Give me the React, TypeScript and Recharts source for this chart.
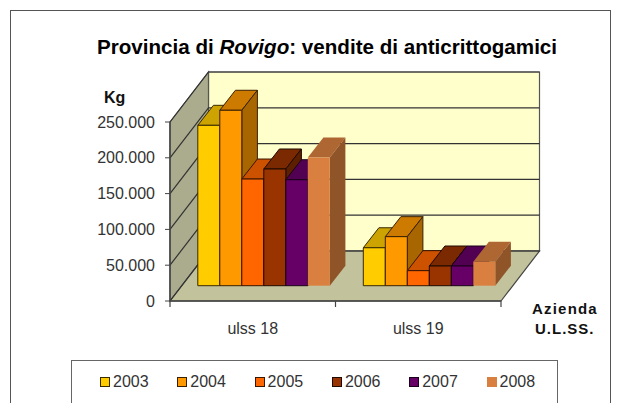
import React from "react";
import { BarChart, Bar, XAxis, YAxis, Legend, ReferenceArea } from "recharts";

const categories = ["ulss 18", "ulss 19"];
const years = ["2003", "2004", "2005", "2006", "2007", "2008"];
const sales2003 = [224000, 53000];
const sales2004 = [245000, 68500];
const sales2005 = [149000, 21000];
const sales2006 = [163000, 27500];
const sales2007 = [148000, 27500];
const sales2008 = [179000, 33500];
const yTicks = [0, 50000, 100000, 150000, 200000, 250000];

const series = [sales2003, sales2004, sales2005, sales2006, sales2007, sales2008];
const data = categories.map((name, i) => {
  const row: Record<string, string | number> = { name };
  years.forEach((y, s) => {
    row[y] = series[s][i];
  });
  return row;
});

const colors: Record<string, { front: string; top: string; side: string; edge: string }> = {
  "2003": { front: "#FFCC00", top: "#CCA300", side: "#997A00", edge: "#3a2a00" },
  "2004": { front: "#FF9900", top: "#CC7A00", side: "#A86600", edge: "#3a2000" },
  "2005": { front: "#FF6600", top: "#CC5200", side: "#A34100", edge: "#3a1500" },
  "2006": { front: "#993300", top: "#7A2900", side: "#5C1F00", edge: "#200a00" },
  "2007": { front: "#660066", top: "#520052", side: "#3D003D", edge: "#1a001a" },
  "2008": { front: "#D98040", top: "#AE6633", side: "#8F5428", edge: "none" },
};

// oblique projection: back wall offset, bar front offset, bar depth
const WALL_DX = 38.5;
const WALL_DY = -50;
const FRONT_DX = 11.8;
const FRONT_DY = -15.3;
const BAR_DX = 15.6;
const BAR_DY = -20;

const formatKg = (v: number) => String(v).replace(/\B(?=(\d{3})+$)/g, ".");

function Box3D(props: any) {
  const { x, y, width, height, dataKey } = props;
  const c = colors[dataKey];
  const l = x + FRONT_DX;
  const r = l + width;
  const t = y + FRONT_DY;
  const b = t + height;
  const sw = c.edge === "none" ? 0 : 1;
  return (
    <g stroke={c.edge} strokeWidth={sw} strokeLinejoin="round">
      <polygon fill={c.top} points={`${l},${t} ${r},${t} ${r + BAR_DX},${t + BAR_DY} ${l + BAR_DX},${t + BAR_DY}`} />
      <polygon fill={c.side} points={`${r},${t} ${r + BAR_DX},${t + BAR_DY} ${r + BAR_DX},${b + BAR_DY} ${r},${b}`} />
      <rect x={l} y={t} width={width} height={height} fill={c.front} />
    </g>
  );
}

function Walls(props: any) {
  const { x, y, width, height } = props;
  const r = x + width;
  const b = y + height;
  const bx = WALL_DX;
  const by = WALL_DY;
  return (
    <g>
      <polygon fill="#FFFFCC" stroke="#555" strokeWidth={1.2} points={`${x + bx},${y + by} ${r + bx},${y + by} ${r + bx},${b + by} ${x + bx},${b + by}`} />
      <polygon fill="#ABAB8E" stroke="#555" strokeWidth={1.2} points={`${x},${y} ${x + bx},${y + by} ${x + bx},${b + by} ${x},${b}`} />
      <polygon fill="#C2C29C" stroke="#444" strokeWidth={1.2} points={`${x},${b} ${x + bx},${b + by} ${r + bx},${b + by} ${r},${b}`} />
      {[x, x + width / 2, r].map((tx) => (
        <line key={tx} x1={tx} x2={tx} y1={b} y2={b + 6} stroke="#444" strokeWidth={1.2} />
      ))}
    </g>
  );
}

// zero-height reference area, so y comes from the value axis
function GridLine(props: any) {
  const { x, y, width } = props;
  return (
    <polyline
      fill="none"
      stroke="#333"
      strokeWidth={1.2}
      points={`${x},${y} ${x + WALL_DX},${y + WALL_DY} ${x + width + WALL_DX},${y + WALL_DY}`}
    />
  );
}

function LegendBox(props: any) {
  const items = props.payload || [];
  return (
    <div style={{ position: "relative", width: 487, height: 60, boxSizing: "border-box", border: "1.5px solid #666", background: "#fff" }}>
      {items.map((item: any, i: number) => {
        const c = colors[item.value];
        return (
          <div key={item.value} style={{ position: "absolute", left: 28 + i * 77.3, top: 12, display: "flex", alignItems: "center", height: 18 }}>
            <span style={{ width: c.edge === "none" ? 10 : 8, height: c.edge === "none" ? 10 : 8, background: c.front, border: c.edge === "none" ? "none" : `1px solid ${c.edge}`, marginRight: 3 }} />
            <span style={{ fontFamily: "Liberation Sans", fontSize: 16, color: "#333" }}>{item.value}</span>
          </div>
        );
      })}
    </div>
  );
}

const textBase: React.CSSProperties = {
  position: "absolute",
  fontFamily: "Liberation Sans",
  fontWeight: 700,
  color: "#111",
  whiteSpace: "nowrap",
  lineHeight: 1,
};

export default function App() {
  return (
    <div style={{ position: "fixed", left: 0, top: 0, width: 625, height: 403, overflow: "hidden", background: "#fff" }}>
      <div style={{ position: "absolute", left: 10, top: 10, width: 601, height: 420, border: "1.5px solid #555", boxSizing: "border-box" }} />
      <BarChart
        width={625}
        height={403}
        data={data}
        barCategoryGap={16}
        barGap={0}
        margin={{ top: 122, right: 124, bottom: 72, left: 0 }}
        style={{ position: "absolute", left: 0, top: 0 }}
      >
        <XAxis
          dataKey="name"
          height={30}
          axisLine={{ stroke: "#444", strokeWidth: 1.5 }}
          tickLine={false}
          tick={{ fill: "#333", fontSize: 16, fontFamily: "Liberation Sans" }}
          tickMargin={16}
          interval={0}
        />
        <YAxis
          width={170}
          domain={[0, 250000]}
          ticks={yTicks}
          tickFormatter={formatKg}
          axisLine={{ stroke: "#444", strokeWidth: 1.5 }}
          tickLine={{ stroke: "#444" }}
          tickSize={5}
          tickMargin={10}
          interval={0}
          tick={{ fill: "#333", fontSize: 16, fontFamily: "Liberation Sans" }}
        />
        <ReferenceArea y1={0} y2={250000} ifOverflow="visible" shape={Walls} />
        {yTicks.map((t) => (
          <ReferenceArea key={t} y1={t} y2={t} ifOverflow="visible" shape={GridLine} />
        ))}
        <Legend
          content={LegendBox}
          layout="horizontal"
          align="center"
          verticalAlign="middle"
          wrapperStyle={{ left: 71, top: 360, width: 487, height: 60 }}
        />
        {years.map((y) => (
          <Bar key={y} dataKey={y} name={y} fill={colors[y].front} shape={Box3D} isAnimationActive={false} />
        ))}
      </BarChart>
      <div style={{ ...textBase, left: 97, top: 37, fontSize: 20.6, color: "#000" }}>
        Provincia di <i>Rovigo</i>: vendite di anticrittogamici
      </div>
      <div style={{ ...textBase, left: 104, top: 90, fontSize: 16 }}>Kg</div>
      <div style={{ ...textBase, left: 532, top: 301, fontSize: 15, letterSpacing: 1.2 }}>Azienda</div>
      <div style={{ ...textBase, left: 535, top: 321, fontSize: 15, letterSpacing: 1 }}>U.L.SS.</div>
    </div>
  );
}
